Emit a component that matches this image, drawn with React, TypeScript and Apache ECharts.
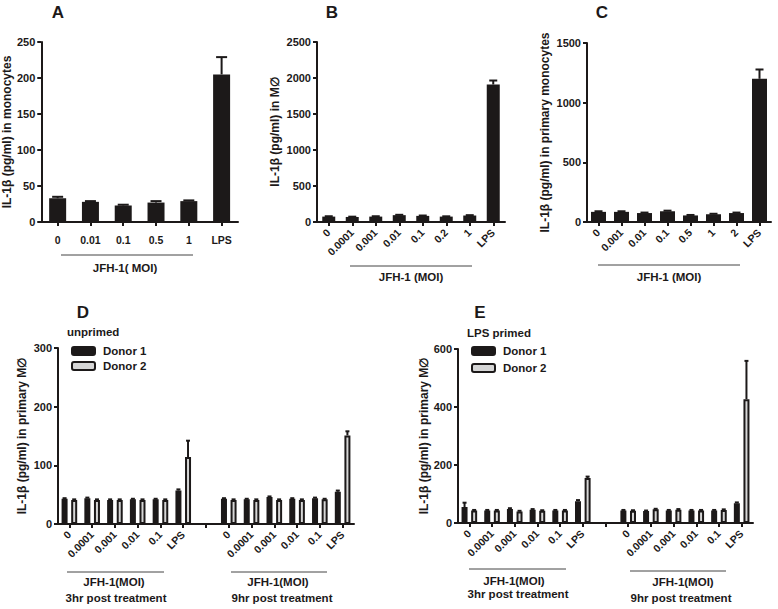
import React, { useEffect, useRef } from 'react';
import * as echarts from 'echarts';

// ---- Data ----
const catsA = ['0', '0.01', '0.1', '0.5', '1', 'LPS'];
const valsA = [33, 28, 23, 27, 29, 205];
const errA = [2, 1, 1, 2, 1, 24];

const catsB = ['0', '0.0001', '0.001', '0.01', '0.1', '0.2', '1', 'LPS'];
const valsB = [75, 70, 75, 95, 85, 75, 90, 1910];
const errB = [5, 4, 5, 5, 5, 4, 5, 55];

const catsC = ['0', '0.001', '0.01', '0.1', '0.5', '1', '2', 'LPS'];
const valsC = [85, 85, 75, 90, 55, 65, 75, 1200];
const errC = [5, 5, 4, 5, 4, 4, 4, 78];

const catsDE = ['0', '0.0001', '0.001', '0.01', '0.1', 'LPS', '', '0', '0.0001', '0.001', '0.01', '0.1', 'LPS'];

const valsD1 = [43, 44, 41, 42, 42, 57, null, 43, 42, 46, 43, 44, 55];
const errD1 = [1, 1, 1, 1, 1, 2, null, 1, 1, 1, 1, 1, 2];
const valsD2 = [41, 41, 41, 41, 41, 114, null, 41, 41, 41, 41, 42, 151];
const errD2 = [1, 1, 1, 1, 1, 28, null, 1, 1, 1, 1, 1, 7];

const valsE1 = [55, 43, 48, 46, 43, 75, null, 43, 41, 43, 43, 43, 68];
const errE1 = [15, 2, 3, 2, 2, 4, null, 2, 2, 2, 2, 2, 3];
const valsE2 = [43, 43, 40, 42, 43, 155, null, 42, 47, 46, 43, 45, 427];
const errE2 = [2, 2, 2, 2, 2, 5, null, 2, 2, 2, 2, 2, 132];

const INK = '#1c1919';
const LIGHT = '#d6d6d6';
const FONT = '"Liberation Sans", Arial, Helvetica, sans-serif';

function errData(vals: (number | null)[], errs: (number | null)[]) {
  const out: number[][] = [];
  vals.forEach((v, i) => {
    if (v != null && errs[i] != null) out.push([i, v, errs[i] as number]);
  });
  return out;
}

function errRender(offset: number, capW: number) {
  return (params: any, api: any) => {
    const x = api.value(0);
    const v = api.value(1);
    const e = api.value(2);
    const p0 = api.coord([x, v]);
    const p1 = api.coord([x, v + e]);
    const cx = p0[0] + offset;
    return {
      type: 'group',
      children: [
        { type: 'line', shape: { x1: cx, y1: p0[1], x2: cx, y2: p1[1] }, style: { stroke: INK, lineWidth: 2 } },
        { type: 'line', shape: { x1: cx - capW / 2, y1: p1[1], x2: cx + capW / 2, y2: p1[1] }, style: { stroke: INK, lineWidth: 2 } },
      ],
    };
  };
}

function xAxisCfg(gi: number, data: string[], rotate: number, margin: number) {
  return {
    type: 'category',
    gridIndex: gi,
    data,
    axisLine: { show: true, lineStyle: { color: INK, width: 2 } },
    axisTick: { show: true, alignWithLabel: true, length: 4, interval: 0, lineStyle: { color: INK, width: 2 } },
    axisLabel: { interval: 0, rotate, margin, fontSize: 10.5, fontWeight: 'bold', color: INK, fontFamily: FONT },
    splitLine: { show: false },
  };
}

function yAxisCfg(gi: number, max: number, interval: number, name: string, nameGap: number) {
  return {
    type: 'value',
    gridIndex: gi,
    min: 0,
    max,
    interval,
    name,
    nameLocation: 'middle',
    nameGap,
    nameTextStyle: { fontSize: 12, fontWeight: 'bold', color: INK, fontFamily: FONT },
    axisLine: { show: true, lineStyle: { color: INK, width: 2 } },
    axisTick: { show: true, length: 4, lineStyle: { color: INK, width: 2 } },
    axisLabel: {
      margin: 6,
      fontSize: 11,
      fontWeight: 'bold',
      color: INK,
      fontFamily: FONT,
      formatter: (v: number) => String(v),
    },
    splitLine: { show: false },
  };
}

function txt(x: number, y: number, text: string, size: number, align = 'center') {
  return {
    type: 'text',
    x,
    y,
    style: { text, fontSize: size, fontWeight: 'bold', fill: INK, fontFamily: FONT, align, verticalAlign: 'middle' },
  };
}
function hline(x1: number, x2: number, y: number) {
  return { type: 'line', shape: { x1, y1: y, x2, y2: y }, style: { stroke: '#444', lineWidth: 1 } };
}

export default function App() {
  const ref = useRef<HTMLDivElement>(null);
  useEffect(() => {
    if (!ref.current) return;
    const chart = echarts.init(ref.current, undefined, { renderer: 'svg' });
    const singleBar = (gi: number, vals: number[], w: number) => ({
      type: 'bar',
      xAxisIndex: gi,
      yAxisIndex: gi,
      data: vals,
      barWidth: w,
      itemStyle: { color: INK },
      z: 2,
    });
    const pairBar = (gi: number, name: string, vals: (number | null)[], fill: string) => ({
      type: 'bar',
      name,
      xAxisIndex: gi,
      yAxisIndex: gi,
      data: vals,
      barWidth: 6,
      barGap: '60%',
      itemStyle: { color: fill, borderColor: INK, borderWidth: 2 },
      z: 2,
    });
    const errSeries = (gi: number, data: number[][], off: number, cap: number) => ({
      type: 'custom',
      xAxisIndex: gi,
      yAxisIndex: gi,
      data,
      renderItem: errRender(off, cap),
      z: 3,
      silent: true,
    });
    const off = 4.8;
    const legendText = { fontSize: 11.5, fontWeight: 'bold', color: INK, fontFamily: FONT, padding: [0, 0, 0, 3], lineHeight: 12 };

    chart.setOption({
      animation: false,
      backgroundColor: '#ffffff',
      textStyle: { fontFamily: FONT },
      grid: [
        { left: 41, top: 42, width: 197, height: 180 },
        { left: 317, top: 42, width: 188, height: 180 },
        { left: 587, top: 43, width: 184, height: 179 },
        { left: 58, top: 348, width: 296, height: 176 },
        { left: 458, top: 349, width: 295, height: 174 },
      ],
      xAxis: [
        xAxisCfg(0, catsA, 0, 12),
        xAxisCfg(1, catsB, 45, 9),
        xAxisCfg(2, catsC, 45, 9),
        xAxisCfg(3, catsDE, 45, 9),
        xAxisCfg(4, catsDE, 45, 9),
      ],
      yAxis: [
        yAxisCfg(0, 250, 50, 'IL-1β (pg/ml) in monocytes', 24),
        yAxisCfg(1, 2500, 500, 'IL-1β (pg/ml) in M∅', 36),
        yAxisCfg(2, 1500, 500, 'IL-1β (pg/ml) in primary monocytes', 36),
        yAxisCfg(3, 300, 100, 'IL-1β (pg/ml) in primary M∅', 30),
        yAxisCfg(4, 600, 200, 'IL-1β (pg/ml) in primary M∅', 27),
      ],
      legend: [
        {
          data: ['Donor 1', 'Donor 2'],
          orient: 'vertical',
          left: 66,
          top: 340,
          itemWidth: 23,
          itemHeight: 8,
          itemGap: 3,
          selectedMode: false,
          textStyle: legendText,
        },
        {
          data: ['Donor 1', 'Donor 2'],
          orient: 'vertical',
          left: 466,
          top: 340,
          itemWidth: 23,
          itemHeight: 8,
          itemGap: 5,
          selectedMode: false,
          textStyle: legendText,
        },
      ],
      series: [
        singleBar(0, valsA, 17),
        errSeries(0, errData(valsA, errA), 0, 11),
        singleBar(1, valsB, 13),
        errSeries(1, errData(valsB, errB), 0, 8),
        singleBar(2, valsC, 15),
        errSeries(2, errData(valsC, errC), 0, 8),
        pairBar(3, 'Donor 1', valsD1, INK),
        pairBar(3, 'Donor 2', valsD2, LIGHT),
        errSeries(3, errData(valsD1, errD1), -off, 4),
        errSeries(3, errData(valsD2, errD2), off, 4),
        pairBar(4, 'Donor 1', valsE1, INK),
        pairBar(4, 'Donor 2', valsE2, LIGHT),
        errSeries(4, errData(valsE1, errE1), -off, 4),
        errSeries(4, errData(valsE2, errE2), off, 4),
      ],
      graphic: [
        txt(58, 12, 'A', 17),
        txt(332, 12, 'B', 17),
        txt(602, 12, 'C', 17),
        txt(83, 312, 'D', 17),
        txt(480, 312, 'E', 17),
        txt(67, 332, 'unprimed', 11.5, 'left'),
        txt(467, 333, 'LPS primed', 11.5, 'left'),
        hline(61, 193, 255),
        txt(125, 268, 'JFH-1( MOI)', 11.5),
        hline(350, 472, 266),
        txt(411, 277, 'JFH-1 (MOI)', 11.5),
        hline(598, 740, 265),
        txt(669, 277, 'JFH-1 (MOI)', 11.5),
        hline(67, 164, 572),
        txt(114, 582, 'JFH-1(MOI)', 11.5),
        txt(116, 598, '3hr post treatment', 11.5),
        hline(231, 327, 572),
        txt(278, 582, 'JFH-1(MOI)', 11.5),
        txt(282, 598, '9hr post treatment', 11.5),
        hline(469, 566, 569),
        txt(514, 581, 'JFH-1(MOI)', 11.5),
        txt(518, 594, '3hr post treatment', 11.5),
        hline(630, 726, 571),
        txt(683, 582, 'JFH-1(MOI)', 11.5),
        txt(681, 598, '9hr post treatment', 11.5),
      ],
    });
    return () => chart.dispose();
  }, []);
  return (
    <div
      ref={ref}
      style={{ position: 'fixed', left: 0, top: 0, width: 778, height: 609, background: '#fff' }}
    />
  );
}
